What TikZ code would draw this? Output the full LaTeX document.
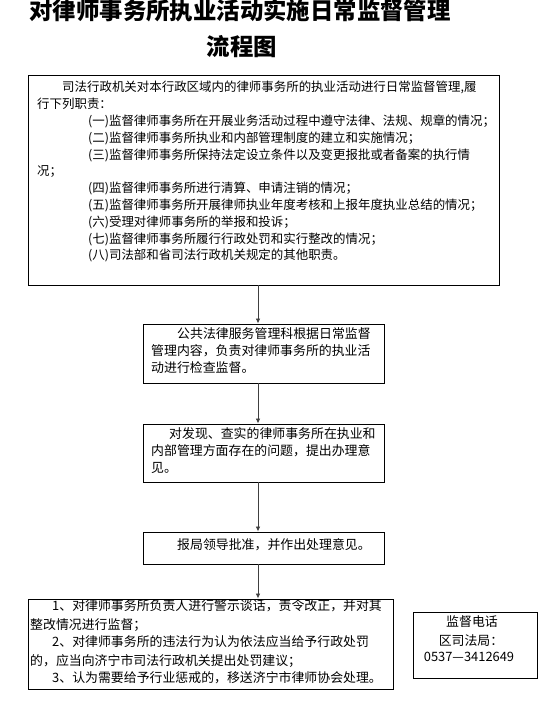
\documentclass[tikz,border=0pt]{standalone}
\usepackage{fontspec}
\newfontfamily\cjk{Noto Sans CJK SC}
\usetikzlibrary{arrows.meta}
\tikzset{
  box/.style={draw=black, line width=0.9pt, inner sep=0pt},
  tl/.style={anchor=west, inner sep=0pt, font=\cjk\fontsize{12.45}{14}\selectfont, text height=0.88em, text depth=0.12em},
  tm/.style={tl, font=\cjk\fontsize{12.9}{14}\selectfont},
  tc/.style={tm, anchor=center},
  ttl/.style={inner sep=0pt, font=\cjk\bfseries\fontsize{23.4}{26}\selectfont, text height=0.88em, text depth=0.12em},
  arr/.style={draw=black!75, line width=0.8pt, -{Latex[length=5pt,width=4.5pt]}}
}
\begin{document}
\begin{tikzpicture}[x=1pt,y=-1pt]
\useasboundingbox (0,0) rectangle (547,707);
% title
\node[ttl] (title1) at (240,16) {对律师事务所执业活动实施日常监督管理};
\node[ttl] (title2) at (242,52) {流程图};
% boxes
\node[box, minimum width=471pt, minimum height=210pt] (b1) at (263.5,180) {};
\node[box, minimum width=241pt, minimum height=59pt] (b2) at (263.5,353.5) {};
\node[box, minimum width=241pt, minimum height=58pt] (b3) at (263.5,453) {};
\node[box, minimum width=241pt, minimum height=32pt] (b4) at (263.5,548) {};
\node[box, minimum width=365pt, minimum height=90pt] (b5) at (210.5,644) {};
\node[box, minimum width=124pt, minimum height=66pt] (b6) at (475,645) {};
% box 1 text
\node[tl] (l1) at (62,88) {司法行政机关对本行政区域内的律师事务所的执业活动进行日常监督管理,履};
\node[tl] (l2) at (37,104.8) {行下列职责：};
\node[tl] (l3) at (88,121.6) {(一)监督律师事务所在开展业务活动过程中遵守法律、法规、规章的情况；};
\node[tl] (l4) at (88,138.4) {(二)监督律师事务所执业和内部管理制度的建立和实施情况；};
\node[tl] (l5) at (88,155.2) {(三)监督律师事务所保持法定设立条件以及变更报批或者备案的执行情};
\node[tl] (l6) at (37,172) {况；};
\node[tl] (l7) at (88,188.8) {(四)监督律师事务所进行清算、申请注销的情况；};
\node[tl] (l8) at (88,205.6) {(五)监督律师事务所开展律师执业年度考核和上报年度执业总结的情况；};
\node[tl] (l9) at (88,222.4) {(六)受理对律师事务所的举报和投诉；};
\node[tl] (l10) at (88,239.2) {(七)监督律师事务所履行行政处罚和实行整改的情况；};
\node[tl] (l11) at (88,256) {(八)司法部和省司法行政机关规定的其他职责。};
% box 2 text
\node[tm] (m1) at (177,335) {公共法律服务管理科根据日常监督};
\node[tm] (m2) at (151,352) {管理内容，负责对律师事务所的执业活};
\node[tm] (m3) at (151,369) {动进行检查监督。};
% box 3 text
\node[tm] (n1) at (169,435) {对发现、查实的律师事务所在执业和};
\node[tm] (n2) at (151,452) {内部管理方面存在的问题，提出办理意};
\node[tm] (n3) at (151,469) {见。};
% box 4 text
\node[tm] (o1) at (177,546) {报局领导批准，并作出处理意见。};
% box 5 text
\node[tm] (p1) at (52,607) {1、对律师事务所负责人进行警示谈话，责令改正，并对其};
\node[tm] (p2) at (30,626) {整改情况进行监督；};
\node[tm] (p3) at (52,643) {2、对律师事务所的违法行为认为依法应当给予行政处罚};
\node[tm] (p4) at (30,662) {的，应当向济宁市司法行政机关提出处罚建议；};
\node[tm] (p5) at (52,679) {3、认为需要给予行业惩戒的，移送济宁市律师协会处理。};
% phone box text
\node[tc] (q1) at (472,623) {监督电话};
\node[tc] (q2) at (471,642) {区司法局：};
\node[tc] (q3) at (469,658) {0537—3412649};
% arrows
\coordinate (ax) at (258,0);
\draw[arr] (b1.south -| ax) -- (b2.north -| ax);
\draw[arr] (b2.south -| ax) -- (b3.north -| ax);
\draw[arr] (b3.south -| ax) -- (b4.north -| ax);
\draw[arr] (b4.south -| ax) -- (b5.north -| ax);
\end{tikzpicture}
\end{document}
